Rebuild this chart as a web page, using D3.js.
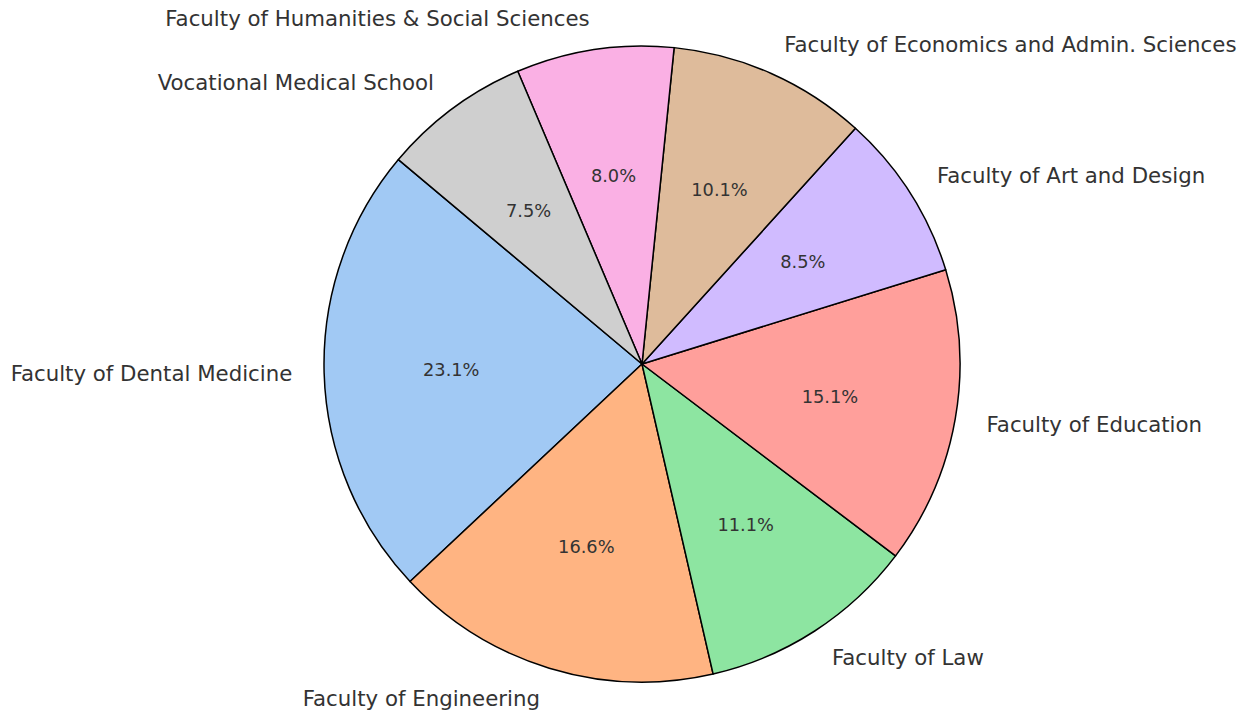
<!DOCTYPE html>
<html>
<head>
<meta charset="utf-8">
<script src="https://cdn.jsdelivr.net/npm/d3@7"></script>
<style>
  html, body { margin: 0; padding: 0; background: #ffffff; }
  svg { display: block; }
</style>
</head>
<body>
<svg id="chart" width="1253" height="713"></svg>
<script>
const categories = [
  "Faculty of Dental Medicine",
  "Faculty of Engineering",
  "Faculty of Law",
  "Faculty of Education",
  "Faculty of Art and Design",
  "Faculty of Economics and Admin. Sciences",
  "Faculty of Humanities & Social Sciences",
  "Vocational Medical School"
];
const values = [23.1, 16.6, 11.1, 15.1, 8.5, 10.1, 8.0, 7.5];
const colors = ["#a1c9f4", "#ffb482", "#8de5a1", "#ff9f9b", "#d0bbff", "#debb9b", "#fab0e4", "#cfcfcf"];

const W = 1253, H = 713;
const cx = 642, cy = 364, R = 318;
const startDeg = 140; // matplotlib startangle, counterclockwise

const svg = d3.select("#chart");
const g = svg.append("g").attr("transform", `translate(${cx},${cy})`);

const toD3 = deg => (90 - deg) * Math.PI / 180;
const pie = d3.pie().sort(null).value(d => d)
  .startAngle(toD3(startDeg)).endAngle(toD3(startDeg) - 2 * Math.PI);
const arcs = pie(values);
const arc = d3.arc().innerRadius(0).outerRadius(R);

g.selectAll("path.slice").data(arcs).enter().append("path")
  .attr("class", "slice")
  .attr("d", arc)
  .attr("fill", (d, i) => colors[i])
  .attr("stroke", "#000")
  .attr("stroke-width", 1.5)
  .attr("stroke-linejoin", "round");

const fontFamily = "'DejaVu Sans', sans-serif";
const labelSize = 21.3;
const pctSize = 17.8;

arcs.forEach((d, i) => {
  const mid = (d.startAngle + d.endAngle) / 2;
  const sx = Math.sin(mid), sy = -Math.cos(mid);
  g.append("text")
    .attr("x", sx * R * 1.1)
    .attr("y", sy * R * 1.1)
    .attr("text-anchor", sx > 0 ? "start" : "end")
    .attr("dominant-baseline", "central")
    .attr("font-family", fontFamily)
    .attr("font-size", labelSize)
    .attr("fill", "#333")
    .text(categories[i]);
  g.append("text")
    .attr("x", sx * R * 0.6)
    .attr("y", sy * R * 0.6)
    .attr("text-anchor", "middle")
    .attr("dominant-baseline", "central")
    .attr("font-family", fontFamily)
    .attr("font-size", pctSize)
    .attr("fill", "#333")
    .text(d3.format(".1f")(values[i]) + "%");
});
</script>
</body>
</html>
